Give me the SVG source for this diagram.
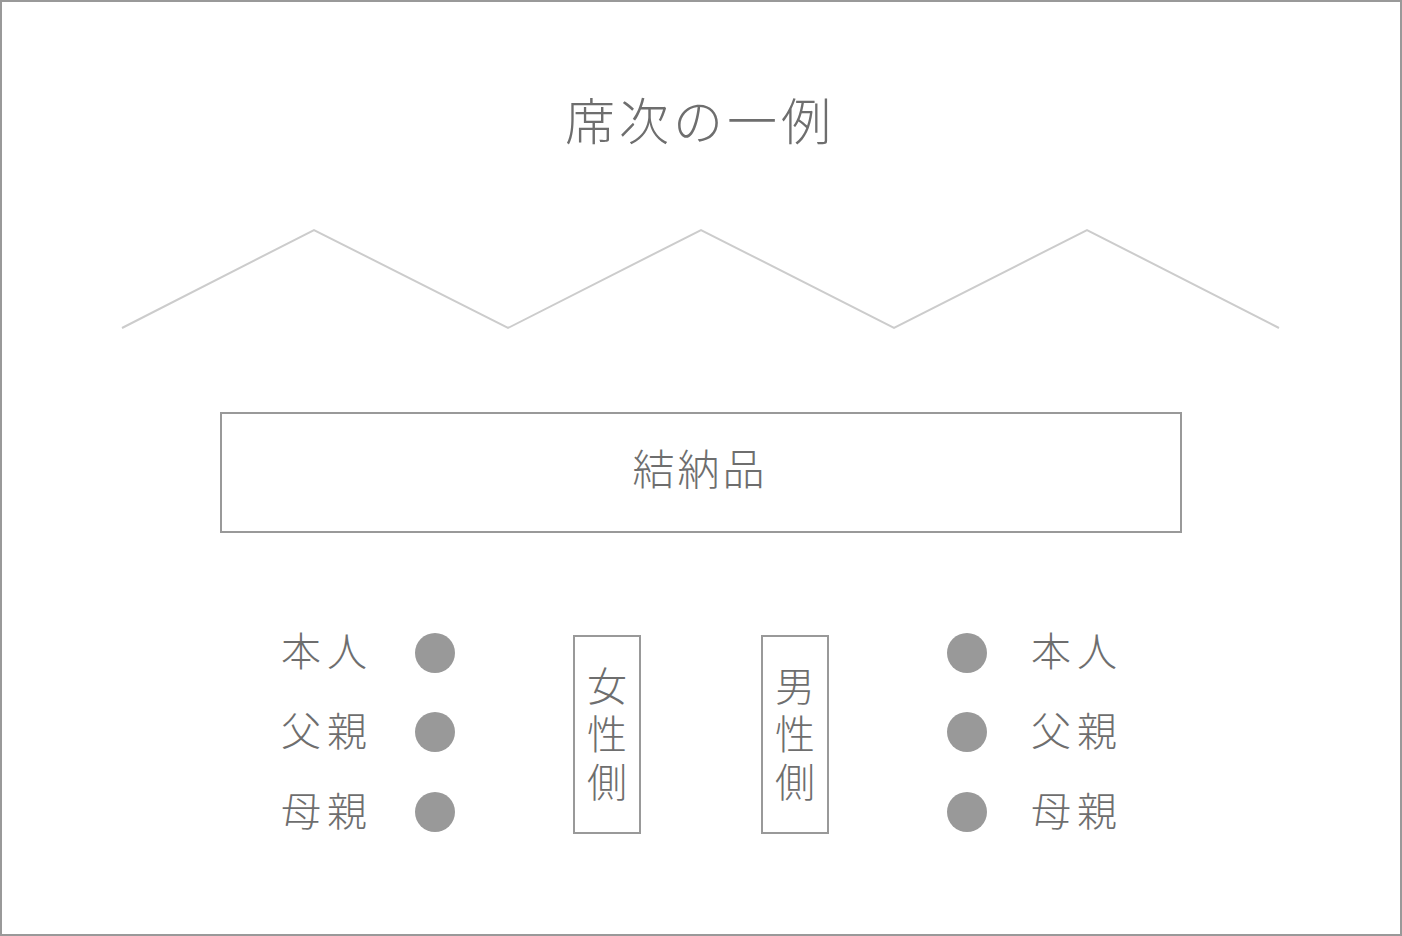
<svg xmlns="http://www.w3.org/2000/svg" width="1402" height="936" viewBox="0 0 1402 936">
<style>
.t{font-family:"Noto Sans CJK JP","Noto Sans CJK SC",sans-serif;fill:#6e6e6e;font-weight:300;text-anchor:middle;dominant-baseline:central}
.v{font-family:"Noto Sans CJK JP","Noto Sans CJK SC",sans-serif;fill:#6e6e6e;font-weight:300;font-size:40px;writing-mode:vertical-rl;text-anchor:middle;letter-spacing:8px}
.box{fill:#fff;stroke:#999;stroke-width:2}
.dot{fill:#999}
</style>
<rect x="1" y="1" width="1400" height="934" fill="#fff" stroke="#999" stroke-width="2"/>
<g id="title"><text class="t" x="700" y="118" font-size="50" letter-spacing="4">席次の一例</text></g>
<g id="connectors"><polyline points="122,328 314,230 508,328 701,230 894,328 1087,230 1279,328" fill="none" stroke="#ccc" stroke-width="2"/></g>
<g id="yuinouhin"><rect class="box" x="221" y="413" width="960" height="119"/><text class="t" x="700" y="466" font-size="42" letter-spacing="3">結納品</text></g>
<g id="josei"><rect class="box" x="574" y="636" width="66" height="197"/>
<text class="v" x="607" y="738">女性側</text></g>
<g id="dansei"><rect class="box" x="762" y="636" width="66" height="197"/>
<text class="v" x="795" y="738">男性側</text></g>
<g id="left-honnin"><text class="t" x="327" y="649" font-size="40" letter-spacing="6">本人</text><circle class="dot" cx="435" cy="653" r="20"/></g>
<g id="left-chichi"><text class="t" x="327" y="729" font-size="40" letter-spacing="6">父親</text><circle class="dot" cx="435" cy="732" r="20"/></g>
<g id="left-haha"><text class="t" x="327" y="809" font-size="40" letter-spacing="6">母親</text><circle class="dot" cx="435" cy="812" r="20"/></g>
<g id="right-honnin"><circle class="dot" cx="967" cy="653" r="20"/><text class="t" x="1077" y="649" font-size="40" letter-spacing="6">本人</text></g>
<g id="right-chichi"><circle class="dot" cx="967" cy="732" r="20"/><text class="t" x="1077" y="729" font-size="40" letter-spacing="6">父親</text></g>
<g id="right-haha"><circle class="dot" cx="967" cy="812" r="20"/><text class="t" x="1077" y="809" font-size="40" letter-spacing="6">母親</text></g>
</svg>
